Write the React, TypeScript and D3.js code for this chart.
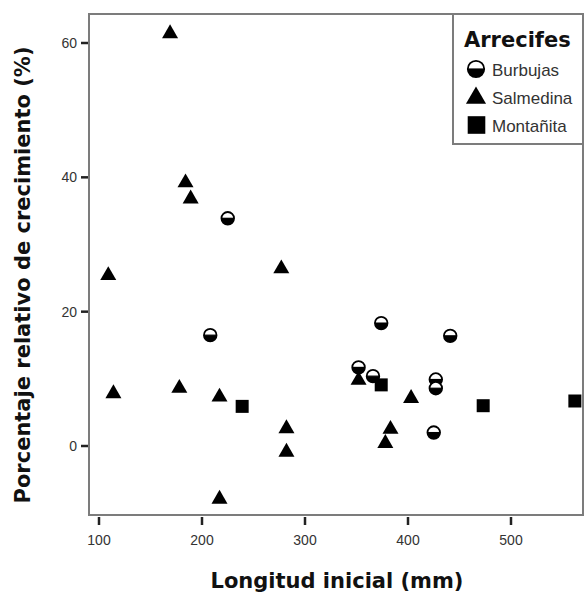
import React from "react";
import * as d3 from "d3";

// Longitud inicial (mm) and porcentaje relativo de crecimiento (%) per reef
const burbujasX = [208, 225, 374, 441, 352, 366, 427, 427, 425];
const burbujasY = [16.5, 33.9, 18.3, 16.4, 11.7, 10.4, 9.9, 8.6, 2.0];

const salmedinaX = [169, 184, 189, 277, 109, 114, 178, 217, 282, 282, 217, 352, 403, 383, 378];
const salmedinaY = [61.4, 39.2, 36.8, 26.4, 25.4, 7.8, 8.6, 7.3, 2.6, -0.9, -7.9, 9.8, 7.1, 2.5, 0.4];

const montanitaX = [239, 374, 473, 562];
const montanitaY = [5.9, 9.1, 6.0, 6.7];

const xTicks = [100, 200, 300, 400, 500];
const yTicks = [0, 20, 40, 60];
const legendLabels = ["Burbujas", "Salmedina", "Montañita"];

const W = 585;
const H = 596;
const frame = { left: 89, top: 14, right: 583, bottom: 515 };

const x = d3.scaleLinear().domain([100, 500]).range([99, 511]);
const y = d3.scaleLinear().domain([0, 60]).range([446, 43]);

const triPath = d3.symbol(d3.symbolTriangle, 111)()!;
const sqPath = d3.symbol(d3.symbolSquare, 169)()!;
const triLegend = d3.symbol(d3.symbolTriangle, 175)()!;
const sqLegend = d3.symbol(d3.symbolSquare, 310)()!;

function HalfCircle({ cx, cy, r }: { cx: number; cy: number; r: number }) {
  const arc = d3.arc()({
    innerRadius: 0,
    outerRadius: r,
    startAngle: Math.PI / 2,
    endAngle: (3 * Math.PI) / 2,
  } as any)!;
  return (
    <g transform={`translate(${cx},${cy})`}>
      <circle r={r} fill="#fff" stroke="#000" strokeWidth={1.8} />
      <path d={arc} fill="#000" />
      <line x1={-r} x2={r} y1={0} y2={0} stroke="#000" strokeWidth={1.2} />
    </g>
  );
}

export default function App() {
  const axisColor = "#7c7c7c";
  return (
    <svg
      width={W}
      height={H}
      style={{ position: "absolute", left: 0, top: 0, background: "#fff" }}
    >
      <rect x={0} y={0} width={W} height={H} fill="#fff" />
      {/* plot frame */}
      <rect
        x={frame.left}
        y={frame.top}
        width={frame.right - frame.left}
        height={frame.bottom - frame.top}
        fill="none"
        stroke={axisColor}
        strokeWidth={2}
      />
      {/* y axis ticks */}
      {yTicks.map((t) => (
        <g key={"y" + t}>
          <line x1={81} x2={88} y1={y(t)} y2={y(t)} stroke="#222" strokeWidth={2.5} />
          <text
            x={77}
            y={y(t)}
            dy="0.36em"
            textAnchor="end"
            fontFamily="Liberation Sans, Arial, sans-serif"
            fontSize={14}
            fill="#333"
          >
            {t}
          </text>
        </g>
      ))}
      {/* x axis ticks */}
      {xTicks.map((t) => (
        <g key={"x" + t}>
          <line x1={x(t)} x2={x(t)} y1={517} y2={525} stroke="#222" strokeWidth={2.5} />
          <text
            x={x(t)}
            y={545}
            textAnchor="middle"
            fontFamily="Liberation Sans, Arial, sans-serif"
            fontSize={14}
            fill="#333"
          >
            {t}
          </text>
        </g>
      ))}
      {/* axis titles */}
      <text
        x={337}
        y={588}
        textAnchor="middle"
        fontFamily="DejaVu Sans, Verdana, sans-serif"
        fontWeight="bold"
        fontSize={21}
        fill="#111"
      >
        Longitud inicial (mm)
      </text>
      <text
        transform={`translate(30,275) rotate(-90)`}
        textAnchor="middle"
        fontFamily="DejaVu Sans, Verdana, sans-serif"
        fontWeight="bold"
        fontSize={21}
        fill="#111"
      >
        Porcentaje relativo de crecimiento (%)
      </text>

      {/* points */}
      {salmedinaX.map((v, i) => (
        <path
          key={"s" + i}
          d={triPath}
          transform={`translate(${x(v)},${y(salmedinaY[i])})`}
          fill="#000"
        />
      ))}
      {montanitaX.map((v, i) => (
        <path
          key={"m" + i}
          d={sqPath}
          transform={`translate(${x(v)},${y(montanitaY[i])})`}
          fill="#000"
        />
      ))}
      {burbujasX.map((v, i) => (
        <HalfCircle key={"b" + i} cx={x(v)} cy={y(burbujasY[i])} r={6.3} />
      ))}

      {/* legend */}
      <rect x={453} y={14} width={130} height={130} fill="#fff" stroke={axisColor} strokeWidth={2} />
      <text
        x={464}
        y={47}
        fontFamily="DejaVu Sans, Verdana, sans-serif"
        fontWeight="bold"
        fontSize={21}
        fill="#111"
      >
        Arrecifes
      </text>
      <HalfCircle cx={476} cy={69} r={8.2} />
      <path d={triLegend} transform="translate(476,98)" fill="#000" />
      <path d={sqLegend} transform="translate(476.5,125)" fill="#000" />
      {legendLabels.map((l, i) => (
        <text
          key={l}
          x={492}
          y={76 + i * 28}
          fontFamily="Liberation Sans, Arial, sans-serif"
          fontSize={17}
          fill="#333"
        >
          {l}
        </text>
      ))}
    </svg>
  );
}
